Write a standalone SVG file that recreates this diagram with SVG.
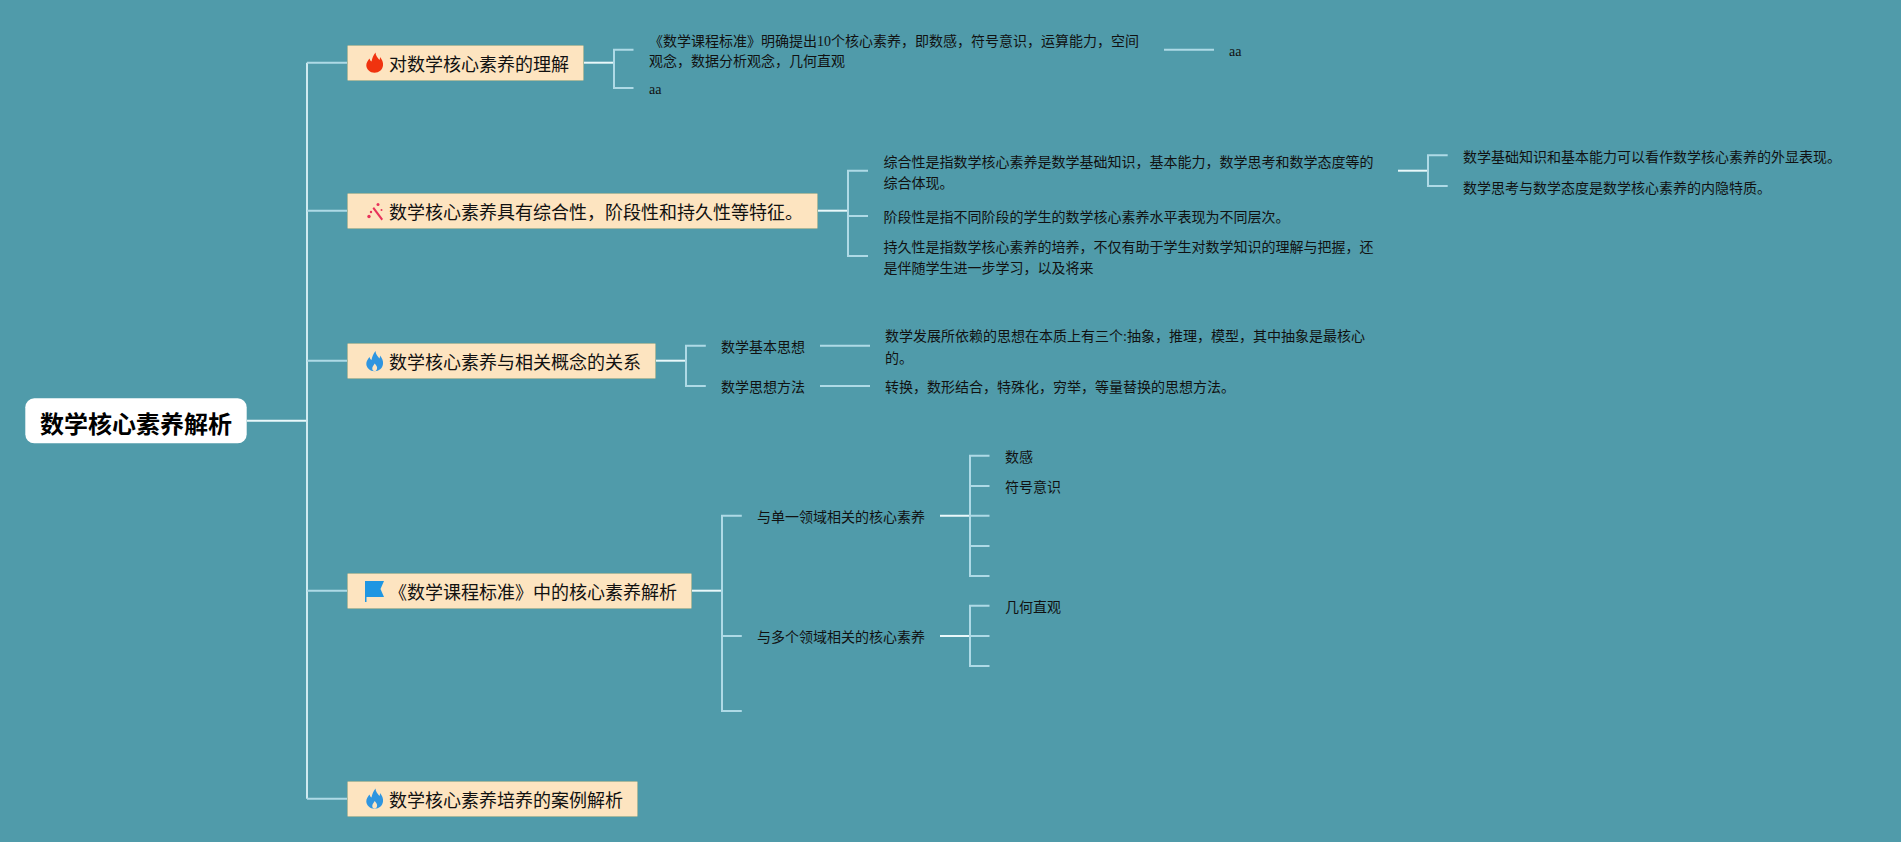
<svg xmlns="http://www.w3.org/2000/svg" width="1901" height="842" viewBox="0 0 1901 842">
<style>
text{font-family:"Liberation Serif","Noto Sans CJK SC",sans-serif;fill:#111}
.s{font-size:14px}
.m{font-size:18px}
.r{font-size:24px;font-weight:700;fill:#000}
.box{fill:#fde4c0;stroke:#a9b89c;stroke-width:1}
.stem{fill:none;stroke:#e9f8fa;stroke-width:2}
.br{fill:none;stroke:#aedae6;stroke-width:2}
.trunk{fill:none;stroke:#cfeaf0;stroke-width:2}
.notch{fill:#fde4c0}
</style>
<defs>
<path id="flame" d="M9.500 0C9.500 3.500 12 5.500 13.500 7.500C14 6.500 14 5.500 14 4.500C16 7 17.500 10 17 13C16.500 17.500 13 20.200 8.500 20.200C4 20.200 .5 17 .3 13C.2 10 2 8 3.500 6C4 7.500 4.500 8.500 5.500 9C6 6 7.500 2.500 9.500 0Z"/>
<path id="flamenotch" d="M8.700 12.500C10.500 14.500 11.500 16 11 18C10.500 19.500 9.500 20.200 8.700 20.200C7.500 20.200 6.500 19.300 6.300 18C6 16 7.500 14.500 8.700 12.500Z"/>
</defs>
<rect width="1901" height="842" fill="#509baa"/>
<g id="connectors">
<path class="stem" d="M247 420.700H307"/>
<path class="trunk" d="M307 62.700V798.700"/>
<path class="br" d="M307 62.700H347M307 210.700H347M307 360.700H347M307 590.700H347M307 798.700H347"/>
<path class="stem" d="M584 62.700H614"/>
<path class="br" d="M633.500 49.700H614V88H633.500"/>
<path class="br" d="M1164 49.700H1214"/>
<path class="stem" d="M818 210.700H848"/>
<path class="br" d="M868 170.700H848V256H868M848 216H868"/>
<path class="stem" d="M1398 170.700H1428"/>
<path class="br" d="M1447.700 155.300H1428V186H1447.700"/>
<path class="stem" d="M656 360.700H686"/>
<path class="br" d="M705.800 345.700H686V386H705.800"/>
<path class="br" d="M820 345.700H870M820 386H870"/>
<path class="stem" d="M692 590.700H722"/>
<path class="br" d="M741.800 515.700H722V711H741.800M722 636H741.800"/>
<path class="stem" d="M940 515.700H970M940 636H970"/>
<path class="br" d="M989.500 455.700H970V576H989.500M970 486H989.500M970 515.700H989.500M970 546H989.500"/>
<path class="br" d="M989.500 605.700H970V666H989.500M970 636H989.500"/>
</g>
<g id="root"><rect x="25.300" y="398.300" width="221.400" height="45" rx="9" fill="#fff"/><text class="r" x="40" y="432.500">数学核心素养解析</text></g>
<g id="n1"><rect class="box" x="347.500" y="45.500" width="236" height="35" rx="1"/>
<use href="#flame" x="366" y="52.500" fill="#f0330f"/>
<text class="m" x="389" y="71">对数学核心素养的理解</text></g>
<g id="n1a"><text class="s" x="649" y="46">《数学课程标准》明确提出10个核心素养，即数感，符号意识，运算能力，空间</text><text class="s" x="649" y="66">观念，数据分析观念，几何直观</text></g>
<g id="n1b"><text class="s" x="649" y="94">aa</text></g>
<g id="n1c"><text class="s" x="1229" y="56">aa</text></g>
<g id="n2"><rect class="box" x="347.500" y="193.500" width="470" height="35" rx="1"/>
<g fill="#e8325a"><path d="M372.500 208.500L374 207L383 219L381.500 220.500Z"/><circle cx="378" cy="204.500" r="1.500"/><circle cx="369" cy="216.500" r="1.700"/><circle cx="371" cy="212" r="1.200"/><circle cx="381.500" cy="210" r="1"/></g>
<text class="m" x="389" y="219">数学核心素养具有综合性，阶段性和持久性等特征。</text></g>
<g id="n2a"><text class="s" x="883.500" y="167">综合性是指数学核心素养是数学基础知识，基本能力，数学思考和数学态度等的</text><text class="s" x="883.500" y="187.500">综合体现。</text></g>
<g id="n2b"><text class="s" x="883.500" y="221.500">阶段性是指不同阶段的学生的数学核心素养水平表现为不同层次。</text></g>
<g id="n2c"><text class="s" x="883.500" y="252">持久性是指数学核心素养的培养，不仅有助于学生对数学知识的理解与把握，还</text><text class="s" x="883.500" y="273">是伴随学生进一步学习，以及将来</text></g>
<g id="n2a1"><text class="s" x="1463" y="162">数学基础知识和基本能力可以看作数学核心素养的外显表现。</text></g>
<g id="n2a2"><text class="s" x="1463" y="193">数学思考与数学态度是数学核心素养的内隐特质。</text></g>
<g id="n3"><rect class="box" x="347.500" y="343.500" width="308" height="35" rx="1"/>
<use href="#flame" x="366" y="351" fill="#2f95e0"/>
<use href="#flamenotch" x="366" y="351" class="notch"/>
<text class="m" x="389" y="369">数学核心素养与相关概念的关系</text></g>
<g id="n3a"><text class="s" x="721" y="352">数学基本思想</text></g>
<g id="n3b"><text class="s" x="721" y="392">数学思想方法</text></g>
<g id="n3a1"><text class="s" x="885" y="341">数学发展所依赖的思想在本质上有三个:抽象，推理，模型，其中抽象是最核心</text><text class="s" x="885" y="363">的。</text></g>
<g id="n3b1"><text class="s" x="885" y="392">转换，数形结合，特殊化，穷举，等量替换的思想方法。</text></g>
<g id="n4"><rect class="box" x="347.500" y="573.500" width="344" height="35" rx="1"/>
<path d="M365 581H384L380.500 589L384 597H366.500V602H365Z" fill="#1f96e2"/>
<text class="m" x="389" y="599">《数学课程标准》中的核心素养解析</text></g>
<g id="n4a"><text class="s" x="757" y="522">与单一领域相关的核心素养</text></g>
<g id="n4b"><text class="s" x="757" y="642">与多个领域相关的核心素养</text></g>
<g id="n4a1"><text class="s" x="1005" y="461.500">数感</text></g>
<g id="n4a2"><text class="s" x="1005" y="492">符号意识</text></g>
<g id="n4b1"><text class="s" x="1005" y="612">几何直观</text></g>
<g id="n5"><rect class="box" x="347.500" y="781.500" width="290" height="35" rx="1"/>
<use href="#flame" x="366" y="788.500" fill="#2f95e0"/>
<use href="#flamenotch" x="366" y="788.500" class="notch"/>
<text class="m" x="389" y="806.500">数学核心素养培养的案例解析</text></g>
</svg>
